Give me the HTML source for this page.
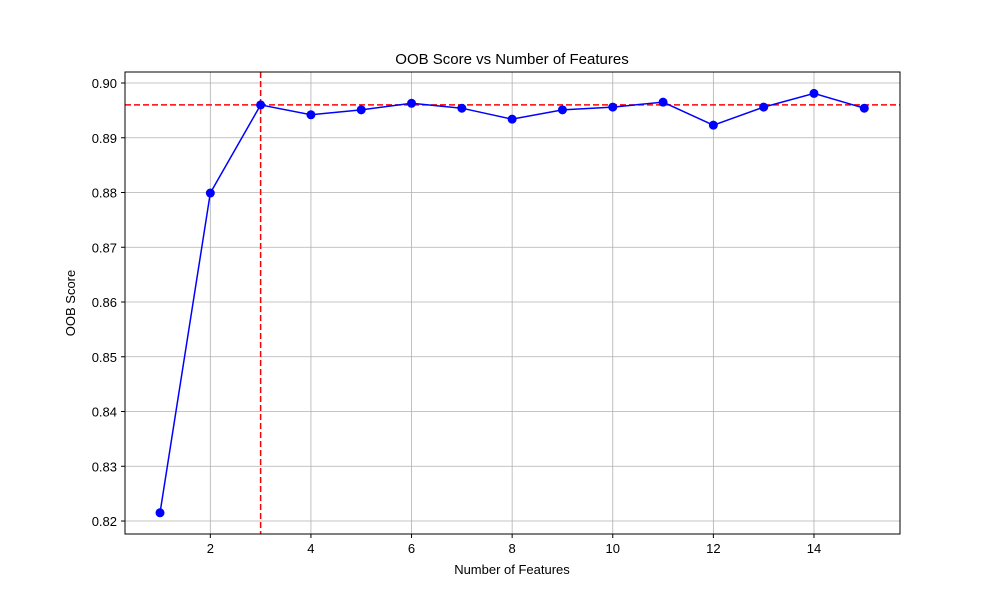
<!DOCTYPE html>
<html><head><meta charset="utf-8"><style>
body{margin:0;background:#fff;font-family:"Liberation Sans","DejaVu Sans",sans-serif}
</style></head><body>
<svg width="1000" height="600" xmlns="http://www.w3.org/2000/svg">
<rect width="1000" height="600" fill="#fff"/>
<g id="grid"></g>
<g id="marks"></g>
<rect x="125" y="72" width="775" height="462" fill="none" stroke="#000" stroke-width="1"/>
<g id="axes" font-size="13" fill="#000"></g>
<text x="512" y="64" text-anchor="middle" font-size="15">OOB Score vs Number of Features</text>
<text x="512" y="574" text-anchor="middle" font-size="13">Number of Features</text>
<text x="75" y="303" text-anchor="middle" font-size="13" transform="rotate(-90 75 303)">OOB Score</text>
</svg>
<script>
const features=[1,2,3,4,5,6,7,8,9,10,11,12,13,14,15];
const scores=[0.8215,0.8799,0.8960,0.8942,0.8951,0.8963,0.8954,0.8934,0.8951,0.8956,0.8965,0.8923,0.8956,0.8981,0.8954];
const xTicks=[2,4,6,8,10,12,14];
const yTicks=[0.82,0.83,0.84,0.85,0.86,0.87,0.88,0.89,0.90];
const bestScore=0.896;
const bestFeature=3;
const L=125,R=900,T=72,B=534;
const xMin=0.304,xMax=15.71,yMin=0.81763,yMax=0.90201;
const sx=v=>L+(v-xMin)/(xMax-xMin)*(R-L);
const sy=v=>B-(v-yMin)/(yMax-yMin)*(B-T);
const NS="http://www.w3.org/2000/svg";
function mk(tag,attrs,parent){const e=document.createElementNS(NS,tag);for(const k in attrs)e.setAttribute(k,attrs[k]);parent.appendChild(e);return e;}
const grid=document.getElementById('grid'),axes=document.getElementById('axes'),marks=document.getElementById('marks');
xTicks.forEach(t=>{const x=sx(t);
 let g=mk('line',{x1:x,x2:x,y1:T,y2:B,stroke:'#b0b0b0','stroke-width':0.8},grid);
 
 
 mk('line',{x1:x,x2:x,y1:B,y2:B+4,stroke:'#000'},axes);
 let tx=mk('text',{x:x,y:B+19,'text-anchor':'middle'},axes);tx.textContent=t;
 
 
});
yTicks.forEach(t=>{const y=sy(t);
 let g=mk('line',{x1:L,x2:R,y1:y,y2:y,stroke:'#b0b0b0','stroke-width':0.8},grid);
 
 
 mk('line',{x1:L-4,x2:L,y1:y,y2:y,stroke:'#000'},axes);
 let tx=mk('text',{x:L-8,y:y+5,'text-anchor':'end'},axes);tx.textContent=t.toFixed(2);
 
 
});
let hl=mk('line',{x1:L,x2:R,y1:sy(bestScore),y2:sy(bestScore),stroke:'#f00','stroke-width':1.5,'stroke-dasharray':'6,3'},marks);


let vl=mk('line',{x1:sx(bestFeature),x2:sx(bestFeature),y1:T,y2:B,stroke:'#f00','stroke-width':1.5,'stroke-dasharray':'6,3'},marks);


let pl=mk('polyline',{points:features.map((f,i)=>sx(f)+','+sy(scores[i])).join(' '),fill:'none',stroke:'#00f','stroke-width':1.5},marks);


features.forEach((f,i)=>{let c=mk('circle',{cx:sx(f),cy:sy(scores[i]),r:4.5,fill:'#00f'},marks);
 
 
});
</script>
</body></html>
